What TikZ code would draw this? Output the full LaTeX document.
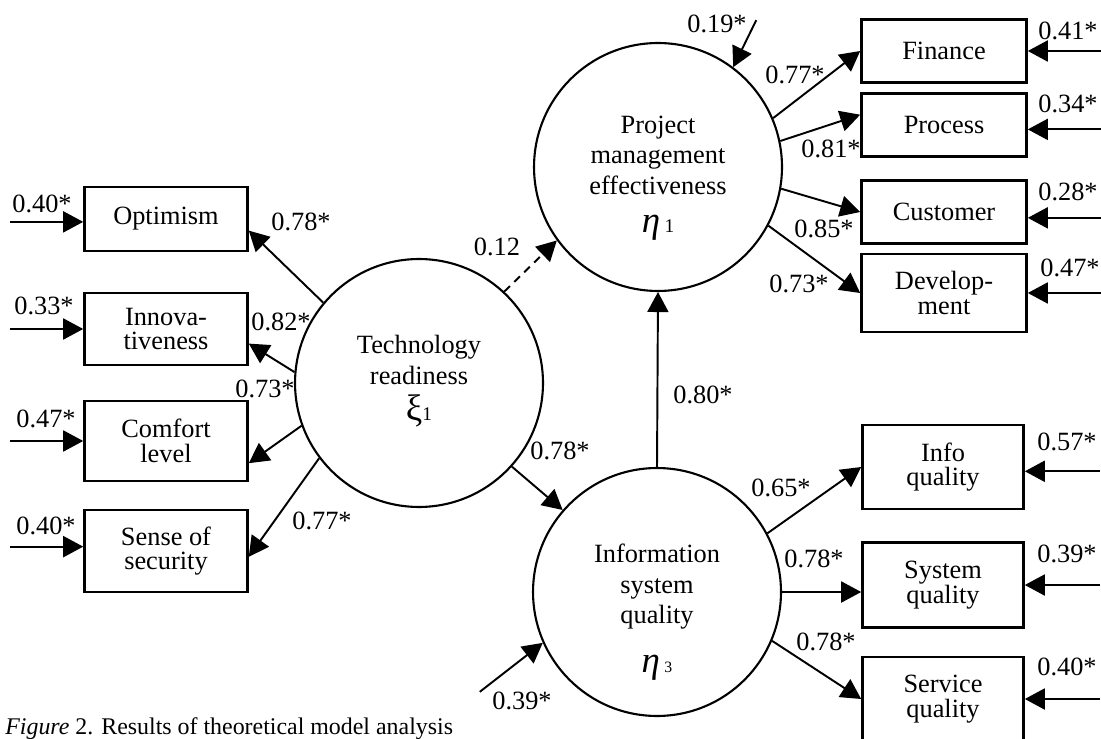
\documentclass[tikz,border=0pt]{standalone}
\usepackage{fontspec}
\setmainfont{Liberation Serif}
\usetikzlibrary{arrows.meta}

\begin{document}
\begin{tikzpicture}[x=0.02cm,y=-0.02cm]

\tikzstyle{every node}=[font=\fontsize{15}{17.5}\selectfont,align=center,inner sep=0pt]
\tikzstyle{indicator}=[draw,line width=1.5pt,font=\fontsize{15}{14}\selectfont]
\tikzstyle{latent}=[draw,circle,line width=1.2pt,minimum size=4.96cm]
\tikzstyle{link}=[line width=1.1pt,-{Triangle[length=0.4cm,width=0.42cm]}]
\tikzstyle{error}=[line width=1.1pt,{Triangle[length=0.4cm,width=0.42cm]}-]

\useasboundingbox (0,0) rectangle (1101,739);
\clip (0,0) rectangle (1101,739);

\node[latent] (tr) at (419,383) {};
\node[latent] (pme) at (658,167) {};
\node[latent] (isq) at (657,592) {};
\node (trtext) at (419,381) {Technology\\readiness\\[3pt]{\fontsize{21}{21}\selectfont ξ}{\fontsize{11}{11}\selectfont 1}};
\node (pmetext) at (658,178) {Project\\management\\effectiveness\\[4pt]{\fontsize{21}{21}\selectfont\textit{η}}\,{\fontsize{11}{11}\selectfont 1}};
\node (isqtext) at (657,612) {Information\\system\\quality\\[10pt]{\fontsize{21}{21}\selectfont\textit{η}}\,{\fontsize{9}{9}\selectfont 3}};

\node[indicator,minimum width=3.26cm,minimum height=1.28cm] (opt) at (166,219) {Optimism};
\node[indicator,minimum width=3.26cm,minimum height=1.44cm] (inn) at (166,329) {Innova-\\tiveness};
\node[indicator,minimum width=3.26cm,minimum height=1.6cm] (com) at (166,441) {Comfort\\level};
\node[indicator,minimum width=3.26cm,minimum height=1.64cm] (sec) at (166,551) {Sense of\\security};

\node[indicator,minimum width=3.3cm,minimum height=1.26cm] (fin) at (944,51) {Finance};
\node[indicator,minimum width=3.3cm,minimum height=1.26cm] (pro) at (944,125) {Process};
\node[indicator,minimum width=3.3cm,minimum height=1.26cm] (cus) at (944,212) {Customer};
\node[indicator,minimum width=3.3cm,minimum height=1.56cm] (dev) at (944,293) {Develop-\\ment};

\node[indicator,minimum width=3.22cm,minimum height=1.68cm] (inf) at (943,467) {Info\\quality};
\node[indicator,minimum width=3.22cm,minimum height=1.7cm] (sys) at (943,585) {System\\quality};
\node[indicator,minimum width=3.22cm,minimum height=1.68cm] (ser) at (943,699) {Service\\quality};

\draw[link] (tr.140) -- (opt.-8);
\draw[link] (tr.175) -- (inn.-10);
\draw[link] (tr.200) -- (com.-15);
\draw[link] (tr.217) -- (sec.-4);
\draw[link,dashed,dash pattern=on 4.5pt off 3.4pt] (tr.47) -- (pme.216);
\draw[link] (tr.-42) -- (isq.139);
\draw[link] (isq.north) -- (pme.south);
\draw[link] (pme.23) -- (fin.west);
\draw[link] (pme.12) -- (pro.173);
\draw[link] (pme.-10) -- (cus.west);
\draw[link] (pme.-28) -- (dev.west);
\draw[link] (isq.28) -- (inf.west);
\draw[link] (isq.east) -- (sys.west |- isq.east);
\draw[link] (isq.-23) -- (ser.west);

\draw[error] (opt.182) -- ++(-73,0);
\draw[error] (inn.west) -- ++(-73,0);
\draw[error] (com.west) -- ++(-73,0);
\draw[error] (sec.177) -- ++(-73,0);
\draw[error] (fin.east) -- ++(73,0);
\draw[error] (pro.-3) -- ++(73,0);
\draw[error] (cus.-4) -- ++(73,0);
\draw[error] (dev.east) -- ++(73,0);
\draw[error] (inf.-3) -- ++(75,0);
\draw[error] (sys.east) -- ++(75,0);
\draw[error] (ser.east) -- ++(75,0);
\draw[error] (pme.53) -- ++(23,-47);
\draw[error] (isq.204) -- ++(-63,49);

\node (wopt) at (301,222) {0.78*};
\node (winn) at (281,322) {0.82*};
\node (wcom) at (265,389) {0.73*};
\node (wsec) at (322,521) {0.77*};
\node (wfin) at (795,75) {0.77*};
\node (wpro) at (831,149) {0.81*};
\node (wcus) at (824,229) {0.85*};
\node (wdev) at (799,284) {0.73*};
\node (winf) at (781,488) {0.65*};
\node (wsys) at (814,559) {0.78*};
\node (wser) at (826,642) {0.78*};
\node (wtrisq) at (560,451) {0.78*};
\node (wisqpme) at (703,395) {0.80*};
\node (wtrpme) at (497,247) {0.12};
\node (dpme) at (717,24) {0.19*};
\node (disq) at (522,701) {0.39*};

\node (eopt) at (42,204) {0.40*};
\node (einn) at (44,306) {0.33*};
\node (ecom) at (46,419) {0.47*};
\node (esec) at (46,526) {0.40*};
\node (efin) at (1068,31) {0.41*};
\node (epro) at (1068,104) {0.34*};
\node (ecus) at (1068,192) {0.28*};
\node (edev) at (1070,268) {0.47*};
\node (einf) at (1067,442) {0.57*};
\node (esys) at (1067,554) {0.39*};
\node (eser) at (1067,667) {0.40*};

\node[anchor=base west,font=\fontsize{13.6}{16}\selectfont] (caption) at (5,734) {\textit{Figure} 2. Results of theoretical model analysis};

\end{tikzpicture}
\end{document}
